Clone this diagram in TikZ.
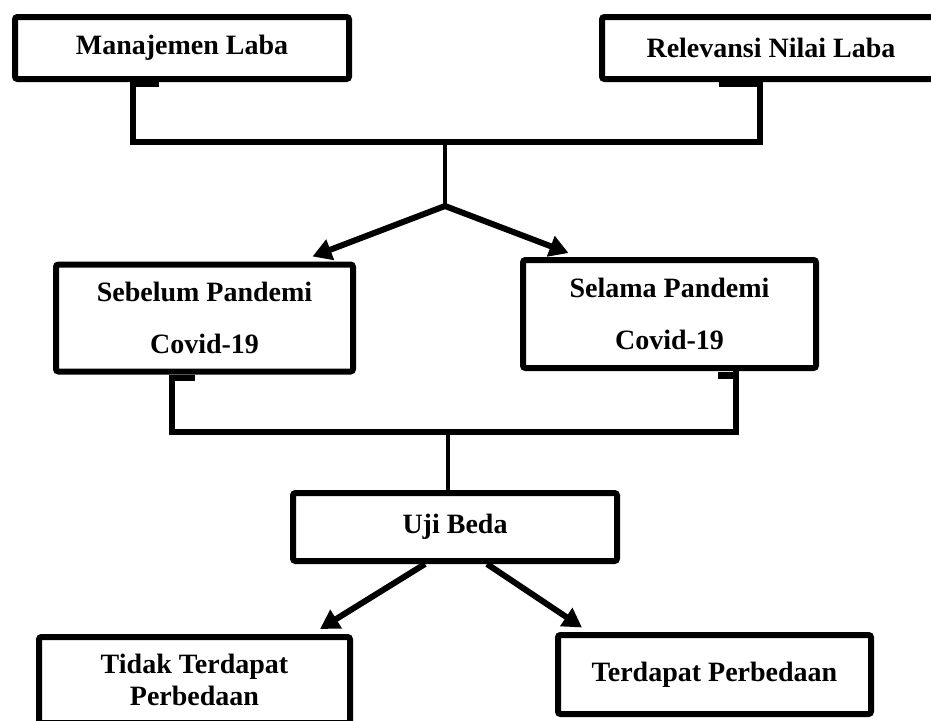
\documentclass[tikz,border=0pt]{standalone}
\usepackage{fontspec}
\setmainfont{Liberation Serif}
\usetikzlibrary{arrows.meta}
\begin{document}
\begin{tikzpicture}[x=1pt,y=-1pt,
  box/.style={draw=black, line width=6pt, rounded corners=2.5pt, inner sep=0pt,
    align=center, font=\bfseries\fontsize{28}{52}\selectfont},
  tightbox/.style={box, font=\bfseries\fontsize{28}{32}\selectfont},
  conn/.style={draw=black, line width=6pt, line join=miter},
  thinconn/.style={draw=black, line width=4.5pt},
  arr/.style={draw=black, line width=6pt, -{Triangle[length=19pt,width=21pt]}},
  stubfill/.style={fill=black}]
\useasboundingbox (0,0) rectangle (931,720);
\fill[white] (0,0) rectangle (931,720);

% boxes
\node[box, minimum width=334pt, minimum height=62pt] (ML) at (182,48) {Manajemen Laba};
\node[box, minimum width=338pt, minimum height=62pt] (RL) at (771,48) {Relevansi Nilai Laba};
\node[box, minimum width=297pt, minimum height=107pt] (SB) at (204.5,318) {Sebelum Pandemi\\Covid-19};
\node[box, minimum width=293pt, minimum height=108pt] (SL) at (669.5,314) {Selama Pandemi\\Covid-19};
\node[box, minimum width=324pt, minimum height=68pt] (UB) at (455,527) {Uji Beda};
\node[tightbox, minimum width=311pt, minimum height=86pt] (TT) at (194.5,680) {Tidak Terdapat\\Perbedaan};
\node[box, minimum width=313pt, minimum height=79pt] (TP) at (714.5,674.5) {Terdapat Perbedaan};

% top bus
\coordinate (p1) at (133,142);
\coordinate (p2) at (760,142);
\coordinate (j1) at (445,206);
\draw[conn] (ML.south -| p1) -- (p1) -- (p2) -- (RL.south -| p2);
\draw[thinconn] (j1 |- p1) -- (j1);
\draw[arr] (j1) -- ([xshift=108pt,yshift=5pt]SB.north);
\draw[arr] (j1) -- ([xshift=-101pt,yshift=4pt]SL.north);

% middle bus
\coordinate (q1) at (172,432);
\coordinate (q2) at (736,432);
\coordinate (j2) at (448,432);
\draw[conn] (SB.south -| q1) -- (q1) -- (q2) -- (SL.south -| q2);
\draw[thinconn] (j2) -- (UB.north -| j2);

% result arrows
\draw[arr] ([xshift=-30pt]UB.south) -- ([xshift=125.5pt,yshift=5pt]TT.north);
\draw[arr] ([xshift=32pt]UB.south) -- ([xshift=-132.5pt,yshift=4.5pt]TP.north);

% small tabs under boxes
\fill[stubfill] (130,82) rectangle (159,87);
\fill[stubfill] (719,82) rectangle (763,87);
\fill[stubfill] (169,375) rectangle (195,381);
\fill[stubfill] (718,372) rectangle (739,379);
\end{tikzpicture}
\end{document}
